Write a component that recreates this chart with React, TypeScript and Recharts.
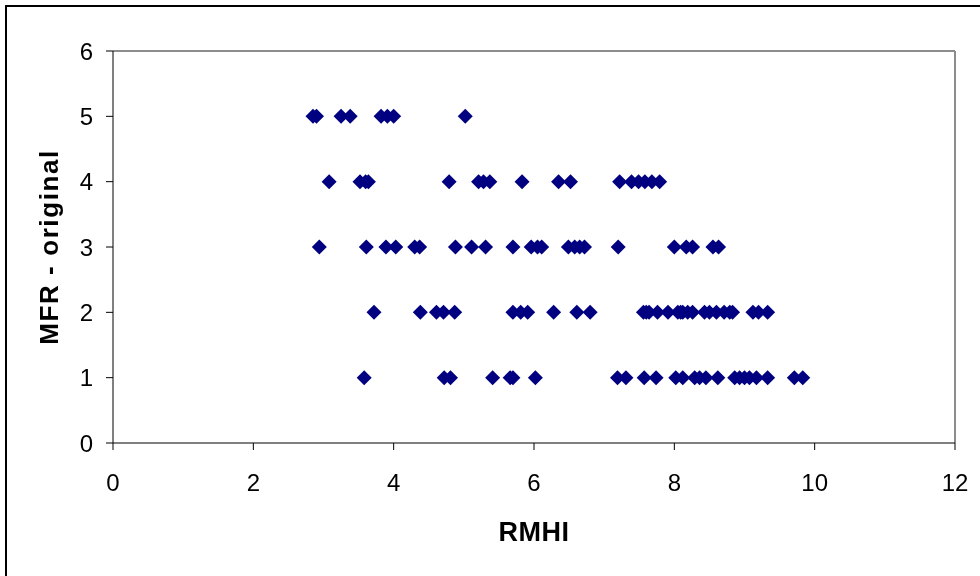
import React from 'react'
import {
  ScatterChart,
  Scatter,
  XAxis,
  YAxis,
  ReferenceLine,
} from 'recharts'

// RMHI readings grouped by their MFR score
const rmhiAtMfr5 = [2.85, 2.9, 3.25, 3.38, 3.82, 3.91, 4.0, 5.02]
const rmhiAtMfr4 = [
  3.08, 3.52, 3.6, 3.64, 4.79, 5.21, 5.28, 5.37, 5.83, 6.35, 6.52, 7.22, 7.39,
  7.49, 7.58, 7.68, 7.79,
]
const rmhiAtMfr3 = [
  2.94, 3.61, 3.89, 4.03, 4.3, 4.37, 4.88, 5.11, 5.31, 5.7, 5.96, 6.05, 6.11,
  6.49, 6.58, 6.65, 6.72, 7.2, 8.0, 8.17, 8.26, 8.55, 8.63,
]
const rmhiAtMfr2 = [
  3.72, 4.38, 4.61, 4.71, 4.87, 5.7, 5.81, 5.91, 6.28, 6.61, 6.8, 7.56, 7.6,
  7.64, 7.76, 7.91, 8.05, 8.09, 8.12, 8.19, 8.26, 8.43, 8.5, 8.6, 8.71, 8.79,
  8.83, 9.12, 9.2, 9.33,
]
const rmhiAtMfr1 = [
  3.58, 4.72, 4.81, 5.41, 5.66, 5.7, 6.02, 7.19, 7.31, 7.57, 7.74, 8.02, 8.12,
  8.29, 8.36, 8.45, 8.62, 8.86, 8.93, 9.0, 9.07, 9.17, 9.33, 9.71, 9.83,
]

const xTicks = [0, 2, 4, 6, 8, 10, 12]
const yTicks = [0, 1, 2, 3, 4, 5, 6]

const groups: [number, number[]][] = [
  [5, rmhiAtMfr5],
  [4, rmhiAtMfr4],
  [3, rmhiAtMfr3],
  [2, rmhiAtMfr2],
  [1, rmhiAtMfr1],
]

const points = groups.flatMap(([mfr, xs]) => xs.map((rmhi) => ({ rmhi, mfr })))

const font = '"Liberation Sans", Arial, sans-serif'

// Excel-style square diamond marker
function Diamond(props: any) {
  const { cx, cy } = props
  const r = 7.5
  return (
    <polygon
      points={`${cx},${cy - r} ${cx + r},${cy} ${cx},${cy + r} ${cx - r},${cy}`}
      fill="#000080"
    />
  )
}

export default function App() {
  const tickStyle = { fill: '#000', fontSize: 24, fontFamily: font }
  return (
    <>
      <div
        style={{
          position: 'fixed',
          left: 5,
          top: 5,
          width: 1000,
          height: 600,
          border: '2px solid #000',
        }}
      />
      <div style={{ position: 'fixed', left: 0, top: 0, width: 980, height: 576 }}>
        <ScatterChart
          width={980}
          height={576}
          margin={{ top: 51, right: 25, bottom: 73, left: 53 }}
        >
          <XAxis
            type="number"
            dataKey="rmhi"
            domain={[0, 12]}
            ticks={xTicks}
            height={60}
            tickSize={7}
            tickMargin={24}
            tick={tickStyle}
            axisLine={{ stroke: '#000' }}
            tickLine={{ stroke: '#000' }}
          />
          <YAxis
            type="number"
            dataKey="mfr"
            domain={[0, 6]}
            ticks={yTicks}
            width={60}
            tickSize={7}
            tickMargin={13}
            tick={tickStyle}
            axisLine={{ stroke: '#000' }}
            tickLine={{ stroke: '#000' }}
          />
          <ReferenceLine y={6} stroke="#8c8c8c" strokeWidth={2} />
          <ReferenceLine x={12} stroke="#8c8c8c" strokeWidth={2} />
          <Scatter data={points} shape={Diamond} isAnimationActive={false} />
        </ScatterChart>
      </div>
      <svg
        width={980}
        height={576}
        style={{ position: 'fixed', left: 0, top: 0, pointerEvents: 'none' }}
      >
        <text
          x={534}
          y={541}
          textAnchor="middle"
          fontFamily={font}
          fontWeight="bold"
          fontSize={27}
          letterSpacing={0.5}
        >
          RMHI
        </text>
        <text
          x={58}
          y={247}
          textAnchor="middle"
          fontFamily={font}
          fontWeight="bold"
          fontSize={26}
          letterSpacing={1.6}
          transform="rotate(-90 58 247)"
        >
          MFR - original
        </text>
      </svg>
    </>
  )
}
